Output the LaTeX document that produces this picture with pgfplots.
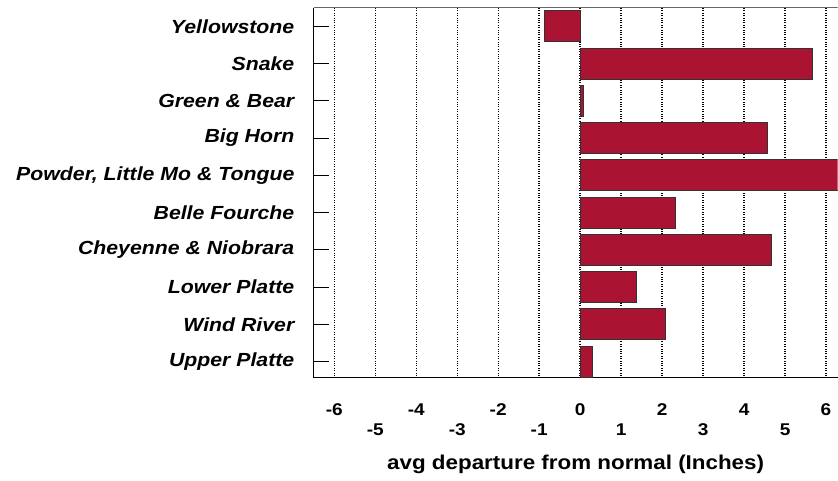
\documentclass[border=0pt]{standalone}
\usepackage{pgfplots}
\pgfplotsset{compat=1.18}
\usepackage{fontspec}
\setmainfont{Liberation Sans}[FakeStretch=1.12]
\definecolor{barred}{RGB}{170,20,50}
\begin{document}
\begin{tikzpicture}
\begin{axis}[
  scale only axis, width=524pt, height=370pt,
  xmin=-6.5, xmax=6.28, ymin=-0.43, ymax=9.49,
  xbar, bar width=31pt,
  axis lines=left, axis line style={-, line width=1pt, black},
  tick align=inside,
  ytick={0,...,9},
  yticklabels={Upper Platte, Wind River, Lower Platte, Cheyenne \& Niobrara, Belle Fourche, {Powder, Little Mo \& Tongue}, Big Horn, Green \& Bear, Snake, Yellowstone},
  yticklabel style={font=\fontsize{19}{22}\selectfont\bfseries\itshape, xshift=-16pt},
  ytick style={line width=1pt, black},
  major tick length=15pt,
  xtick={-6,-4,...,6},
  xticklabels={-6,-4,-2,0,2,4,6},
  xtick style={draw=none},
  extra x ticks={-5,-3,-1,1,3,5},
  extra x tick labels={-5,-3,-1,1,3,5},
  extra x tick style={grid=major, xticklabel style={yshift=-20pt}},
  xmajorgrids,
  grid style={black, dotted, line width=1.4pt},
  xticklabel style={font=\fontsize{17}{20}\selectfont\bfseries, anchor=center, yshift=-32pt},
  xlabel={avg departure from normal (Inches)},
  xlabel style={font=\fontsize{20}{23}\selectfont\bfseries, at={(axis description cs:0.5,0)}, anchor=center, yshift=-87pt},
]
\addplot[fill=barred, draw=black!80, line width=1pt] coordinates {
  (-0.87,9) (5.68,8) (0.08,7) (4.57,6) (6.6,5) (2.33,4) (4.67,3) (1.37,2) (2.09,1) (0.30,0)
};
\draw[black!60, line width=1pt] (rel axis cs:0,1) -- (rel axis cs:1,1);
\end{axis}
\path (current axis.south west) ++(-314pt,-103pt) rectangle ++(838pt,481pt);
\end{tikzpicture}
\end{document}
